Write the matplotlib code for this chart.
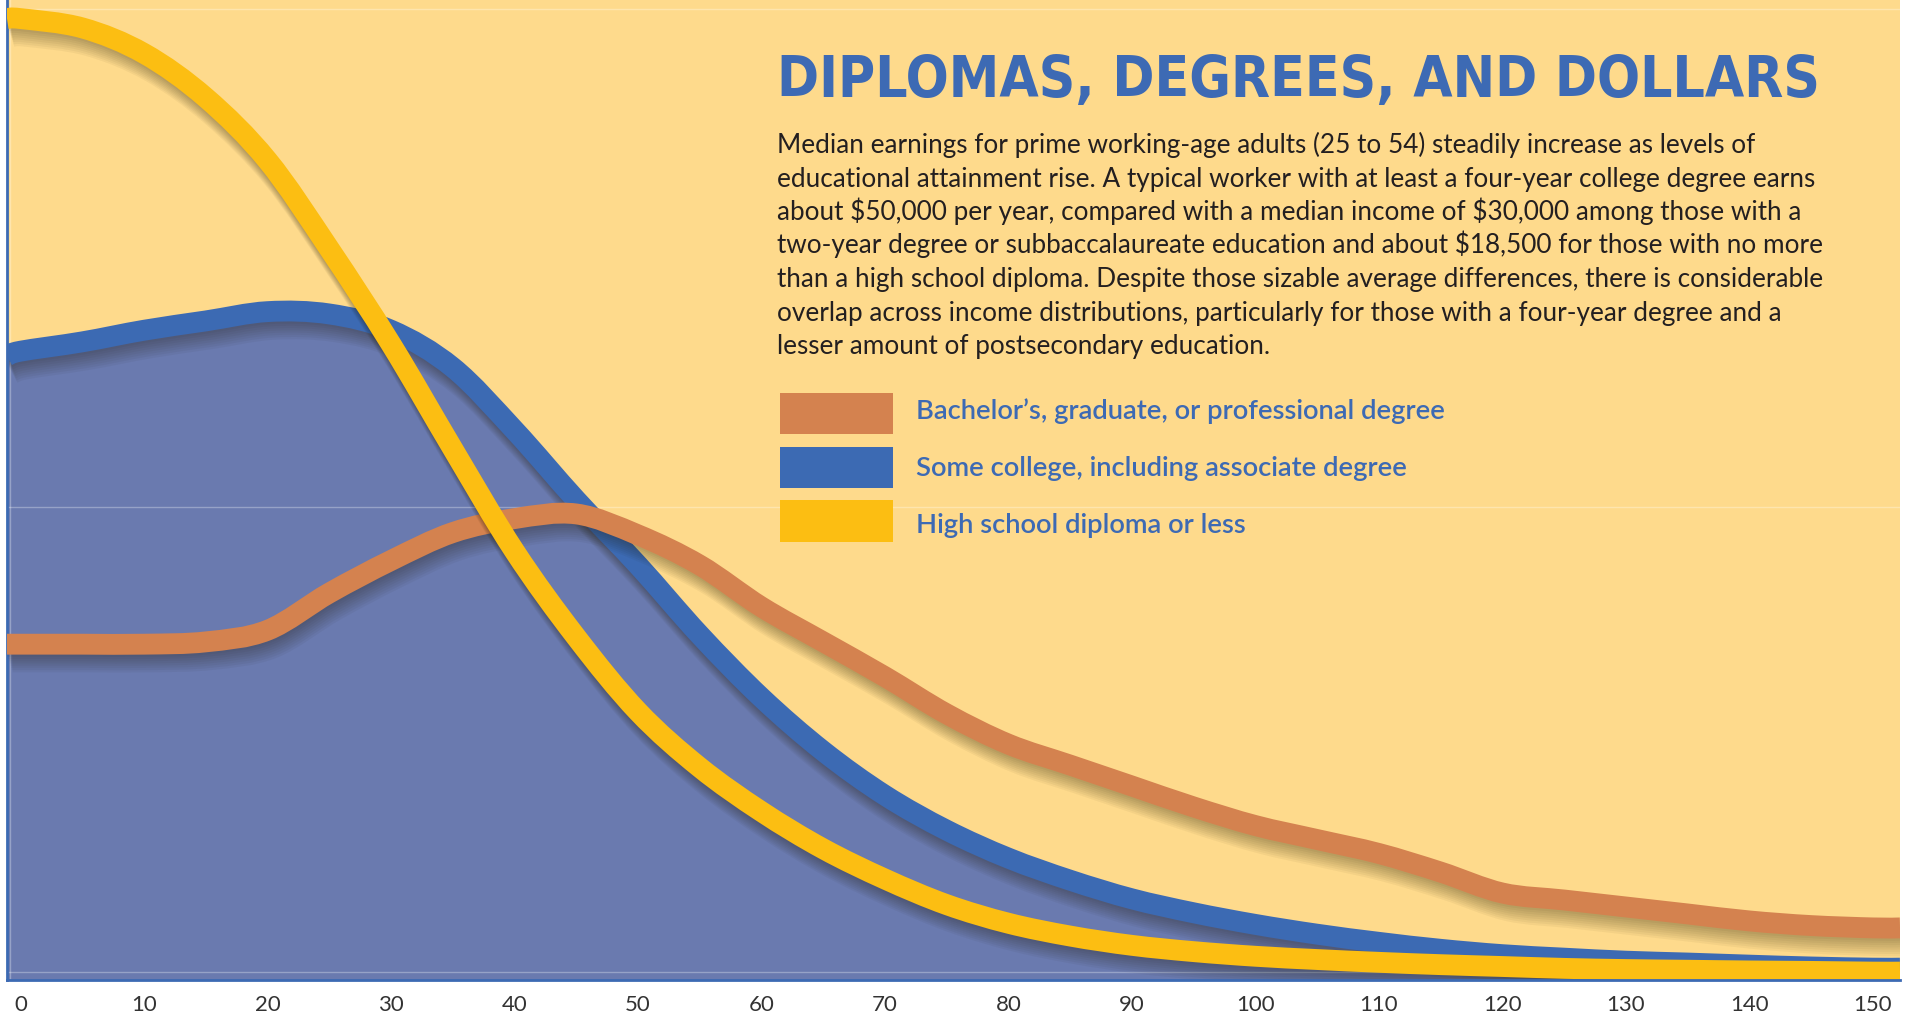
import matplotlib
matplotlib.use("Agg")
import numpy as np
import matplotlib.pyplot as plt
import matplotlib.patheffects as pe
from matplotlib import font_manager as fm
from matplotlib.path import Path
from matplotlib.patches import PathPatch, Rectangle

# income in thousands of dollars, share of workers
income = [-1.1, 0, 5, 10, 15, 20, 25, 30, 35, 40, 45, 50, 55, 60, 65, 70, 75,
          80, 85, 90, 95, 100, 105, 110, 115, 120, 125, 130, 135, 140, 145, 150, 152.2]

bachelor = [1.41, 1.41, 1.41, 1.41, 1.42, 1.47, 1.63, 1.77, 1.89, 1.95, 1.97, 1.88,
            1.75, 1.57, 1.42, 1.27, 1.11, 0.98, 0.89, 0.80, 0.71, 0.63, 0.57, 0.51,
            0.43, 0.34, 0.31, 0.28, 0.25, 0.22, 0.20, 0.19, 0.19]

some_college = [2.65, 2.67, 2.71, 2.76, 2.80, 2.84, 2.83, 2.76, 2.60, 2.33, 2.03, 1.75,
                1.45, 1.18, 0.95, 0.76, 0.61, 0.49, 0.395, 0.315, 0.255, 0.205, 0.163, 0.128,
                0.098, 0.075, 0.06, 0.047, 0.039, 0.03, 0.022, 0.017, 0.017]

high_school = [4.10, 4.10, 4.06, 3.95, 3.76, 3.49, 3.11, 2.70, 2.25, 1.81, 1.44, 1.12,
               0.88, 0.69, 0.53, 0.40, 0.29, 0.21, 0.155, 0.115, 0.088, 0.068, 0.054, 0.042,
               0.032, 0.024, 0.016, 0.011, 0.008, 0.005, 0.003, 0.0, 0.0]

ticks = list(range(0, 151, 10))

labels = ["Bachelor\u2019s, graduate, or professional degree",
          "Some college, including associate degree",
          "High school diploma or less"]

title = "DIPLOMAS, DEGREES, AND DOLLARS"
body = [
    "Median earnings for prime working-age adults (25 to 54) steadily increase as levels of",
    "educational attainment rise. A typical worker with at least a four-year college degree earns",
    "about \\$50,000 per year, compared with a median income of \\$30,000 among those with a",
    "two-year degree or subbaccalaureate education and about \\$18,500 for those with no more",
    "than a high school diploma. Despite those sizable average differences, there is considerable",
    "overlap across income distributions, particularly for those with a four-year degree and a",
    "lesser amount of postsecondary education.",
]

c_bg = "#FEDA8C"
c_fill = "#6A7AAF"
c_blue = "#3C6AB3"
c_orange = "#D4824F"
c_yellow = "#FCBE12"
c_title = "#3D6AB4"

W, H = 1910, 1017
ymin, ymax = -0.034, 4.18


def smooth_path(xs, ys, close_to=None):
    # smooth bezier rendering through the read points
    p = np.column_stack([xs, ys])
    n = len(p)
    verts = [p[0]]
    codes = [Path.MOVETO]
    for i in range(n - 1):
        p0 = p[max(i - 1, 0)]
        p1 = p[i]
        p2 = p[i + 1]
        p3 = p[min(i + 2, n - 1)]
        verts += [p1 + (p2 - p0) / 6, p2 - (p3 - p1) / 6, p2]
        codes += [Path.CURVE4] * 3
    if close_to is not None:
        verts += [(xs[-1], close_to), (xs[0], close_to), p[0]]
        codes += [Path.LINETO, Path.LINETO, Path.CLOSEPOLY]
    return Path(verts, codes)


def shadow():
    # soft drop shadow made of several faint offset copies
    fx = []
    for k in range(1, 9):
        fx.append(pe.SimpleLineShadow(offset=(0.5 * k, -1.6 * k), shadow_color="#1e1800",
                                      alpha=0.045))
    fx.append(pe.Normal())
    return fx


fig = plt.figure(figsize=(W / 100, H / 100), dpi=100, facecolor="white")
ax = fig.add_axes([7 / W, 1 - 980 / H, (1900 - 7) / W, 980 / H])
ax.set_facecolor(c_bg)
ax.set_xlim(-1.1, 152.2)
ax.set_ylim(ymin, ymax)

ax.add_patch(PathPatch(smooth_path(income, some_college, close_to=ymin),
                       facecolor=c_fill, lw=0, zorder=1))

# faint gridlines
for gy in [0, 2.0, 4.142]:
    ax.axhline(gy, color="white", alpha=0.3, lw=1, zorder=1.5)
ax.axvline(-0.85, color="white", alpha=0.3, lw=1, zorder=1.5)

lw = 15
for ys, col, z in [(some_college, c_blue, 2), (bachelor, c_orange, 3), (high_school, c_yellow, 4)]:
    ax.add_patch(PathPatch(smooth_path(income, ys), fill=False, edgecolor=col, lw=lw,
                           capstyle="butt", joinstyle="round", zorder=z,
                           path_effects=shadow()))

for s in ["top", "right"]:
    ax.spines[s].set_visible(False)
ax.spines["left"].set_color(c_blue)
ax.spines["left"].set_linewidth(2)
ax.spines["bottom"].set_color(c_blue)
ax.spines["bottom"].set_linewidth(2)
ax.spines["bottom"].set_zorder(5)

ax.set_yticks([])
ax.set_xticks(ticks)
ax.set_xticklabels([str(t) for t in ticks], family=["Lato", "DejaVu Sans"])
ax.tick_params(axis="x", length=0, pad=11, labelsize=16, labelcolor="#333333")

renderer = fig.canvas.get_renderer()


def fit(txt, target):
    w = txt.get_window_extent(renderer).width
    txt.set_fontsize(txt.get_fontsize() * target / w)


# title font: condensed if available
cond = fm.FontProperties(family="DejaVu Sans", stretch="condensed", weight="bold")
title_family = "DejaVu Sans" if "Condensed" in fm.findfont(cond) else "Roboto"
t = fig.text(777 / W, 1 - 97 / H, title, fontsize=48, fontweight="bold", color=c_title,
             family=title_family, fontstretch="condensed", va="baseline", ha="left")
fit(t, 1044)

body_txt = []
for i, line in enumerate(body):
    body_txt.append(fig.text(777 / W, 1 - (153 + 33.5 * i) / H, line, fontsize=17,
                             color="#231F20", family=["Lato", "DejaVu Sans"],
                             va="baseline", ha="left"))
w1 = body_txt[0].get_window_extent(renderer).width
w5 = body_txt[4].get_window_extent(renderer).width
size = 17 * (970 / w1 + 1046 / w5) / 2
for tx in body_txt:
    tx.set_fontsize(size)

cols = [c_orange, c_blue, c_yellow]
lab_txt = []
for i, (lab, col) in enumerate(zip(labels, cols)):
    top = 393.5 + 53.5 * i
    fig.patches.append(Rectangle((780 / W, 1 - (top + 41) / H), 113 / W, 41 / H,
                                 transform=fig.transFigure, facecolor=col, lw=0))
    lab_txt.append(fig.text(916 / W, 1 - (419 + 57 * i) / H, lab, fontsize=17,
                            color=c_title, family=["Lato", "DejaVu Sans"],
                            fontweight="semibold", va="baseline", ha="left"))
wl = lab_txt[0].get_window_extent(renderer).width
for tx in lab_txt:
    tx.set_fontsize(17 * 531 / wl)

fig.savefig("out.png", dpi=100, facecolor="white")
